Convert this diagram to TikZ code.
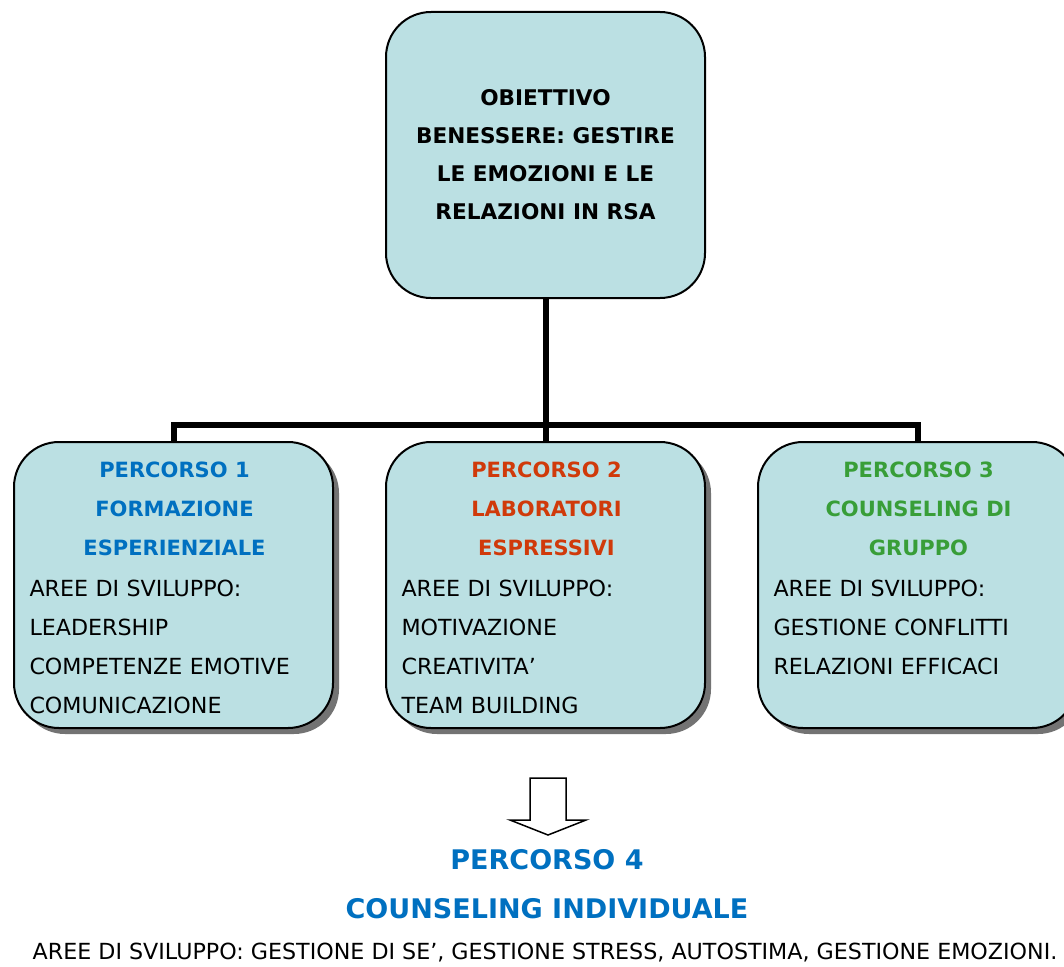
\documentclass[tikz,border=0pt]{standalone}
\usepackage{fontspec}
\setmainfont{DejaVu Sans}
\usetikzlibrary{shadows}
\definecolor{boxfill}{RGB}{187,224,227}
\definecolor{pblue}{RGB}{0,112,192}
\definecolor{pred}{RGB}{208,58,10}
\definecolor{pgreen}{RGB}{56,158,56}

\begin{document}
\begin{tikzpicture}[x=1pt, y=1pt,
    box/.style={draw, line width=2pt, fill=boxfill, rounded corners=45pt,
      minimum width=319pt, minimum height=286pt, inner sep=0pt},
    shadowbox/.style={box, drop shadow={shadow xshift=6pt, shadow yshift=-6pt,
      fill=black!55, opacity=1}},
    boxtext/.style={anchor=north, text width=290pt, inner sep=0pt, align=left,
      font=\fontsize{22.2}{39}\selectfont},
    conn/.style={line width=6pt}]
  \useasboundingbox (0,0) rectangle (1064,-966);

  \node[box, font=\bfseries\fontsize{21.6}{38}\selectfont, align=center] (goal) at (545.5,-155)
    {OBIETTIVO\\BENESSERE: GESTIRE\\LE EMOZIONI E LE\\RELAZIONI IN RSA};

  \node[shadowbox] (p1) at (173.5,-585) {};
  \node[shadowbox] (p2) at (545.5,-585) {};
  \node[shadowbox] (p3) at (917.5,-585) {};

  \coordinate (bus) at (545.5,-425);
  \draw[conn] (p1.north) |- (bus) -| (p3.north);
  \draw[conn] (goal.south) -- (p2.north);

  \node[boxtext] (p1txt) at ([xshift=1pt,yshift=-21pt]p1.north)
    {{\centering\bfseries\fontsize{21}{39}\selectfont\color{pblue}PERCORSO 1\\FORMAZIONE\\ESPERIENZIALE\par}
     \vspace*{2pt}AREE DI SVILUPPO:\\LEADERSHIP\\COMPETENZE EMOTIVE\\COMUNICAZIONE};
  \node[boxtext] (p2txt) at ([xshift=1pt,yshift=-21pt]p2.north)
    {{\centering\bfseries\fontsize{21}{39}\selectfont\color{pred}PERCORSO 2\\LABORATORI\\ESPRESSIVI\par}
     \vspace*{2pt}AREE DI SVILUPPO:\\MOTIVAZIONE\\CREATIVITA’\\TEAM BUILDING};
  \node[boxtext] (p3txt) at ([xshift=1pt,yshift=-21pt]p3.north)
    {{\centering\bfseries\fontsize{21}{39}\selectfont\color{pgreen}PERCORSO 3\\COUNSELING DI\\GRUPPO\par}
     \vspace*{2pt}AREE DI SVILUPPO:\\GESTIONE CONFLITTI\\RELAZIONI EFFICACI};

  \draw[line width=1.5pt, line join=miter] (530,-778) -- (566,-778) -- (566,-820) -- (586,-820)
    -- (548,-835) -- (510,-820) -- (530,-820) -- cycle;

  \node[font=\bfseries\fontsize{27}{49}\selectfont, text=pblue, align=center] (p4) at (547,-884.5)
    {PERCORSO 4\\COUNSELING INDIVIDUALE};
  \node[font=\fontsize{22.2}{24}\selectfont] (p4txt) at (545,-953)
    {AREE DI SVILUPPO: GESTIONE DI SE’, GESTIONE STRESS, AUTOSTIMA, GESTIONE EMOZIONI.};
\end{tikzpicture}
\end{document}
